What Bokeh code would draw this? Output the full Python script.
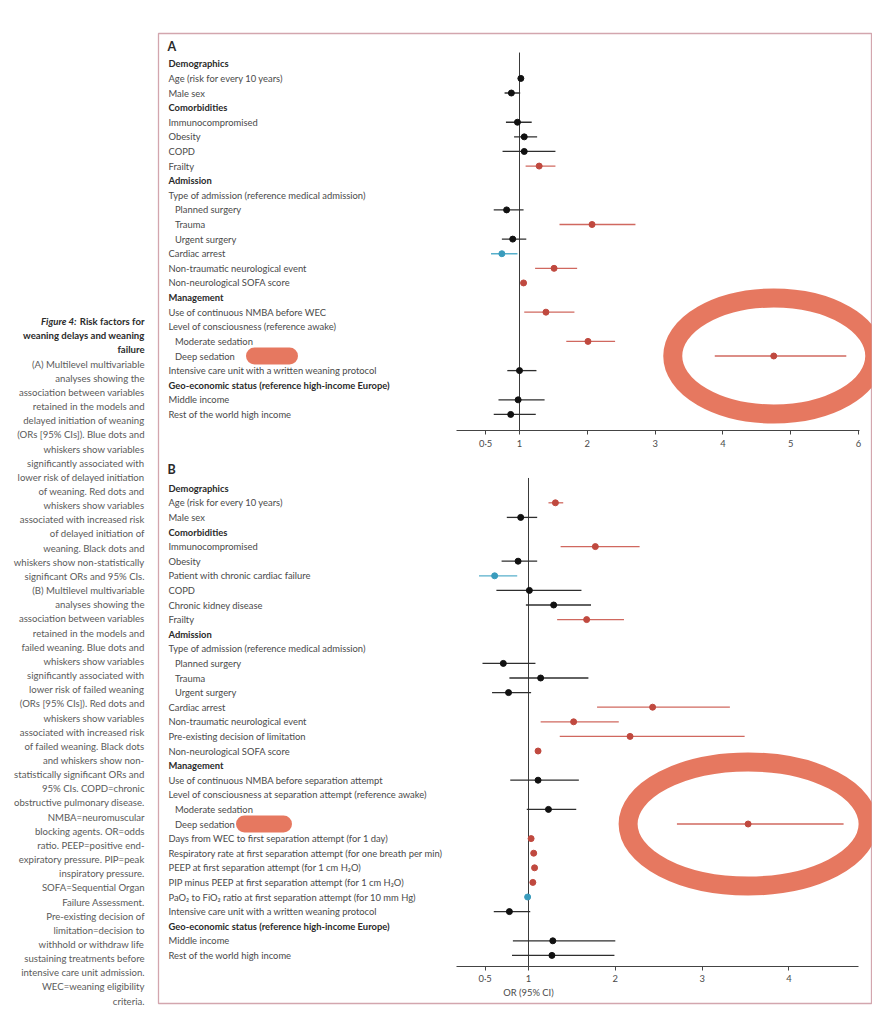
import math
from bokeh.plotting import figure
from bokeh.models import Range1d, LinearAxis, FixedTicker, ColumnDataSource
from bokeh.layouts import row
from bokeh.embed import file_html
from bokeh.resources import INLINE
from bokeh.core.properties import value

NaN = float("nan")

# ---------------- Panel A data ----------------
a_labels = ["Demographics", "Age (risk for every 10 years)", "Male sex",
            "Comorbidities", "Immunocompromised", "Obesity", "COPD", "Frailty",
            "Admission", "Type of admission (reference medical admission)",
            "Planned surgery", "Trauma", "Urgent surgery", "Cardiac arrest",
            "Non-traumatic neurological event", "Non-neurological SOFA score",
            "Management", "Use of continuous NMBA before WEC",
            "Level of consciousness (reference awake)", "Moderate sedation",
            "Deep sedation", "Intensive care unit with a written weaning protocol",
            "Geo-economic status (reference high-income Europe)", "Middle income",
            "Rest of the world high income"]
a_kind = ["h", "v", "v", "h", "v", "v", "v", "v", "h", "v", "s", "s", "s", "v", "v",
          "v", "h", "v", "v", "s", "s", "v", "h", "v", "v"]
a_or = [NaN, 1.02, 0.88, NaN, 0.97, 1.07, 1.07, 1.29, NaN, NaN, 0.81, 2.07, 0.90, 0.74,
        1.51, 1.06, NaN, 1.39, NaN, 2.01, 4.75, 1.00, NaN, 0.98, 0.87]
a_lo = [NaN, 0.99, 0.78, NaN, 0.80, 0.92, 0.75, 1.09, NaN, NaN, 0.62, 1.59, 0.74, 0.58,
        1.23, 1.04, NaN, 1.07, NaN, 1.69, 3.88, 0.82, NaN, 0.69, 0.62]
a_hi = [NaN, 1.05, 1.01, NaN, 1.18, 1.26, 1.53, 1.53, NaN, NaN, 1.06, 2.71, 1.10, 0.97,
        1.85, 1.08, NaN, 1.81, NaN, 2.41, 5.82, 1.25, NaN, 1.37, 1.24]

# ---------------- Panel B data ----------------
b_labels = ["Demographics", "Age (risk for every 10 years)", "Male sex",
            "Comorbidities", "Immunocompromised", "Obesity",
            "Patient with chronic cardiac failure", "COPD", "Chronic kidney disease",
            "Frailty", "Admission", "Type of admission (reference medical admission)",
            "Planned surgery", "Trauma", "Urgent surgery", "Cardiac arrest",
            "Non-traumatic neurological event", "Pre-existing decision of limitation",
            "Non-neurological SOFA score", "Management",
            "Use of continuous NMBA before separation attempt",
            "Level of consciousness at separation attempt (reference awake)",
            "Moderate sedation", "Deep sedation",
            "Days from WEC to first separation attempt (for 1 day)",
            "Respiratory rate at first separation attempt (for one breath per min)",
            "PEEP at first separation attempt (for 1 cm H\u2082O)",
            "PIP minus PEEP at first separation attempt (for 1 cm H\u2082O)",
            "PaO\u2082 to FiO\u2082 ratio at first separation attempt (for 10 mm Hg)",
            "Intensive care unit with a written weaning protocol",
            "Geo-economic status (reference high-income Europe)", "Middle income",
            "Rest of the world high income"]
b_kind = ["h", "v", "v", "h", "v", "v", "v", "v", "v", "v", "h", "v", "s", "s", "s", "v",
          "v", "v", "v", "h", "v", "v", "s", "s", "v", "v", "v", "v", "v", "v", "h", "v", "v"]
b_or = [NaN, 1.31, 0.91, NaN, 1.77, 0.88, 0.61, 1.01, 1.29, 1.67, NaN, NaN, 0.71, 1.14,
        0.77, 2.43, 1.52, 2.17, 1.11, NaN, 1.11, NaN, 1.23, 3.53, 1.03, 1.06, 1.07, 1.05,
        0.99, 0.78, NaN, 1.28, 1.27]
b_lo = [NaN, 1.23, 0.75, NaN, 1.37, 0.69, 0.43, 0.63, 0.97, 1.33, NaN, NaN, 0.47, 0.78,
        0.58, 1.79, 1.14, 1.36, 1.09, NaN, 0.79, NaN, 0.98, 2.71, 1.02, 1.04, 1.05, 1.03,
        0.98, 0.60, NaN, 0.82, 0.81]
b_hi = [NaN, 1.40, 1.10, NaN, 2.28, 1.10, 0.87, 1.61, 1.72, 2.10, NaN, NaN, 1.08, 1.69,
        1.03, 3.32, 2.04, 3.49, 1.13, NaN, 1.58, NaN, 1.55, 4.63, 1.04, 1.08, 1.09, 1.07,
        0.995, 1.02, NaN, 2.00, 1.99]

ticks_a = [0.5, 1, 2, 3, 4, 5, 6]
ticks_b = [0.5, 1, 2, 3, 4]
tick_overrides = {0.5: "0\u00b75"}
x_title = "OR (95% CI)"

caption_title_italic = "Figure 4:"
caption_bold = ["Risk factors for", "weaning delays and weaning", "failure"]
caption_lines = [
    "(A) Multilevel multivariable", "analyses showing the",
    "association between variables", "retained in the models and",
    "delayed initiation of weaning", "(ORs [95% CIs]). Blue dots and",
    "whiskers show variables", "significantly associated with",
    "lower risk of delayed initiation", "of weaning. Red dots and",
    "whiskers show variables", "associated with increased risk",
    "of delayed initiation of", "weaning. Black dots and",
    "whiskers show non-statistically", "significant ORs and 95% CIs.",
    "(B) Multilevel multivariable", "analyses showing the",
    "association between variables", "retained in the models and",
    "failed weaning. Blue dots and", "whiskers show variables",
    "significantly associated with", "lower risk of failed weaning",
    "(ORs [95% CIs]). Red dots and", "whiskers show variables",
    "associated with increased risk", "of failed weaning. Black dots",
    "and whiskers show non-", "statistically significant ORs and",
    "95% CIs. COPD=chronic", "obstructive pulmonary disease.",
    "NMBA=neuromuscular", "blocking agents. OR=odds",
    "ratio. PEEP=positive end-", "expiratory pressure. PIP=peak",
    "inspiratory pressure.", "SOFA=Sequential Organ", "Failure Assessment.",
    "Pre-existing decision of", "limitation=decision to",
    "withhold or withdraw life", "sustaining treatments before",
    "intensive care unit admission.", "WEC=weaning eligibility", "criteria."]

# ---------------- styling / layout ----------------
FONT = "Lato"
FS = "9.4px"
CFS = "9.6px"
RED, RED_L = "#c0493f", "#d0685f"
BLUE, BLUE_L = "#3a9cbd", "#57afcb"
BLACK, BLACK_L = "#111111", "#2e2e2e"
TXT, TXT_B = "#4a4a4a", "#2a2a2a"
BOX = "#d3a6ae"
HL = "#e2654a"

FRAME_L, FRAME_T = 158, 33
FW, FH = 713, 970
TOTAL_H = FRAME_T + FH + 3


def xr_for(one_px, unit_px):
    start = 1 - (one_px - FRAME_L) / unit_px
    return Range1d(start, start + FW / unit_px)


def yr_for(row0_px, step, height=FH):
    top = (FRAME_T - row0_px) / step
    return Range1d(top + height / step, top)


xa, xb = xr_for(519, 67.8), xr_for(528, 86.8)
ya, yb = yr_for(63.3, 14.61), yr_for(487.7, 14.6)

main = figure(width=FW + 2, height=TOTAL_H, x_range=xa, y_range=ya,
              x_axis_type=None, y_axis_type=None, toolbar_location=None,
              output_backend="svg", min_border_left=1, min_border_right=1,
              min_border_top=FRAME_T, min_border_bottom=3,
              outline_line_color=BOX, outline_line_width=1.3,
              background_fill_color="white", border_fill_color="white")
main.extra_x_ranges = {"B": xb, "px": Range1d(0, FW)}
main.extra_y_ranges = {"B": yb}


def colours(o, l, h):
    if h < 1:
        return BLUE, BLUE_L
    if l > 1:
        return RED, RED_L
    return BLACK, BLACK_L


def draw_panel(labels, kind, orv, lo, hi, xname, yname, letter, letter_row,
               axis_row, ref_top, ticks, bounds, hl_w, hl_h, blob):
    n = len(labels)
    for k, style, xx, col in (("h", "bold", 10, TXT_B), ("v", "normal", 10, TXT),
                              ("s", "normal", 16.5, TXT)):
        ids = [i for i in range(n) if kind[i] == k]
        main.text(x=[xx] * len(ids), y=ids, text=[labels[i] for i in ids],
                  x_range_name="px", y_range_name=yname,
                  text_font=value(FONT), text_font_style=style, text_font_size=FS,
                  text_color=col, text_baseline="middle", text_align="left")
    main.text(x=[9], y=[letter_row], text=[letter], x_range_name="px",
              y_range_name=yname, text_font=value(FONT), text_font_style="bold",
              text_font_size="12.5px", text_color=TXT_B, text_baseline="middle")
    # highlight scribbles around deep sedation
    d = labels.index("Deep sedation")
    main.ellipse(x=[orv[d]], y=[d], width=hl_w, height=hl_h, width_units="screen",
                 height_units="screen", fill_color=None, line_color=HL,
                 line_width=19, line_alpha=0.88, x_range_name=xname, y_range_name=yname)
    main.segment(x0=[blob[0]], x1=[blob[1]], y0=[d], y1=[d], line_color=HL,
                 line_width=17, line_cap="round", line_alpha=0.88,
                 x_range_name="px", y_range_name=yname)
    # reference line
    main.segment(x0=[1], x1=[1], y0=[ref_top], y1=[axis_row], line_color="#3a3a3a",
                 line_width=1, x_range_name=xname, y_range_name=yname)
    # estimates
    ids = [i for i in range(n) if not math.isnan(orv[i])]
    cols = [colours(orv[i], lo[i], hi[i]) for i in ids]
    src = ColumnDataSource(dict(y=ids, est=[orv[i] for i in ids],
                                lo=[lo[i] for i in ids], hi=[hi[i] for i in ids],
                                dot=[c[0] for c in cols], line=[c[1] for c in cols]))
    main.segment(x0="lo", x1="hi", y0="y", y1="y", source=src, line_color="line",
                 line_width=1.3, x_range_name=xname, y_range_name=yname)
    main.scatter(x="est", y="y", size=6, fill_color="dot", line_color="dot",
                 source=src, x_range_name=xname, y_range_name=yname)
    ax = LinearAxis(ticker=FixedTicker(ticks=ticks), bounds=bounds,
                    fixed_location=axis_row, x_range_name=xname, y_range_name=yname,
                    major_label_overrides=tick_overrides,
                    major_label_text_font=FONT, major_label_text_font_size=FS,
                    major_label_text_color=TXT, major_label_standoff=3,
                    major_tick_out=4, major_tick_in=0, minor_tick_out=0,
                    axis_line_color="#444444", major_tick_line_color="#444444")
    main.add_layout(ax, "below")


draw_panel(a_labels, a_kind, a_or, a_lo, a_hi, "default", "default", "A", -1.2,
           25.1, -0.77, ticks_a, (0.07, 6.01), 202, 116, (96, 131))
draw_panel(b_labels, b_kind, b_or, b_lo, b_hi, "B", "B", "B", -1.28,
           32.76, -0.7, ticks_b, (0.17, 4.80), 240, 124, (86, 125))
main.text(x=[1], y=[34.55], text=[x_title], x_range_name="B", y_range_name="B",
          text_font=value(FONT), text_font_size=FS, text_color=TXT,
          text_align="center", text_baseline="middle")

# ---------------- caption ----------------
CAP_W = FRAME_L - 1
CAP_H = TOTAL_H + 12
c_step, c_row0 = 14.2, 322
cap = figure(width=CAP_W, height=CAP_H, x_range=Range1d(0, CAP_W),
             y_range=yr_for(c_row0, c_step, CAP_H - FRAME_T), x_axis_type=None,
             y_axis_type=None, toolbar_location=None, output_backend="svg",
             min_border_left=0, min_border_right=0, min_border_top=FRAME_T,
             min_border_bottom=0, outline_line_color=None,
             background_fill_color="white", border_fill_color="white")
cap.text(x=[76], y=[0], text=[caption_title_italic], text_font=value(FONT),
         text_font_style="bold italic", text_font_size=CFS, text_color=TXT_B,
         text_align="right", text_baseline="middle")
cap.text(x=[144] * 3, y=[0, 1, 2], text=caption_bold, text_font=value(FONT),
         text_font_style="bold", text_font_size=CFS, text_color=TXT_B,
         text_align="right", text_baseline="middle")
cap.text(x=[144] * len(caption_lines), y=list(range(3, 3 + len(caption_lines))),
         text=caption_lines, text_font=value(FONT), text_font_size=CFS,
         text_color="#5a5a5a", text_align="right", text_baseline="middle")

layout = row(cap, main)
open("out.html", "w").write(file_html(layout, INLINE))
